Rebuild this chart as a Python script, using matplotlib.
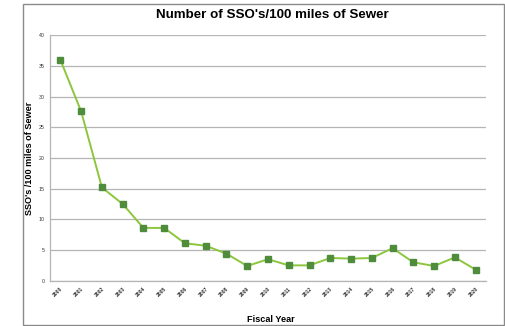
import matplotlib.pyplot as plt
from matplotlib.patches import Rectangle

plt.rcParams['font.family'] = ['Liberation Sans', 'DejaVu Sans']

# Datos
years = [str(y) for y in range(2000, 2021)]
sso_per_100mi = [36.0, 27.6, 15.2, 12.5, 8.6, 8.6, 6.1, 5.7, 4.4, 2.4, 3.5,
                 2.5, 2.5, 3.7, 3.6, 3.7, 5.3, 3.0, 2.4, 3.8, 1.8]
y_ticks = [0, 5, 10, 15, 20, 25, 30, 35, 40]

fig = plt.figure(figsize=(5.06, 3.26), dpi=100)
fig.patch.set_facecolor('white')

# marco exterior del grafico
fig.patches.append(Rectangle((23 / 506, 1.5 / 326), 481 / 506, 320.5 / 326,
                             transform=fig.transFigure, fill=False,
                             edgecolor='#8a8a8a', linewidth=1.0))

ax = fig.add_axes([50 / 506, 1 - 280.7 / 326, 436 / 506, 245.4 / 326])

x = range(len(years))
ax.plot(x, sso_per_100mi, color='#8cc63e', linewidth=1.4, zorder=3)
ax.plot(x, sso_per_100mi, linestyle='none', marker='s', markersize=3.8,
        markerfacecolor='#4f8d3c', markeredgecolor='#4f8d3c', zorder=4)

ax.set_xlim(-0.5, len(years) - 0.5)
ax.set_ylim(0, 40)
ax.set_yticks(y_ticks)
ax.set_yticklabels([str(v) for v in y_ticks], fontsize=3.8)
ax.set_xticks(list(x))
ax.set_xticklabels(years, fontsize=3.6, fontweight='bold', rotation=45,
                   ha='right', rotation_mode='anchor')
ax.tick_params(axis='both', length=0, pad=4, colors='#333333')

ax.yaxis.grid(True, color='#b5b5b5', linewidth=0.9)
ax.set_axisbelow(True)
for side in ['top', 'right']:
    ax.spines[side].set_visible(False)
ax.spines['left'].set_color('#b5b5b5')
ax.spines['bottom'].set_color('#b5b5b5')
ax.spines['left'].set_linewidth(0.9)
ax.spines['bottom'].set_linewidth(0.9)

fig.text(272 / 506, 1 - 15 / 326, "Number of SSO's/100 miles of Sewer",
         ha='center', va='center', fontsize=9.6, fontweight='bold')
fig.text(30 / 506, 1 - 158 / 326, "SSO's /100 miles of Sewer",
         ha='center', va='center', rotation=90, fontsize=6.6, fontweight='bold')
fig.text(271 / 506, 1 - 319 / 326, "Fiscal Year",
         ha='center', va='center', fontsize=6.6, fontweight='bold')

fig.savefig('out.png', dpi=100)
